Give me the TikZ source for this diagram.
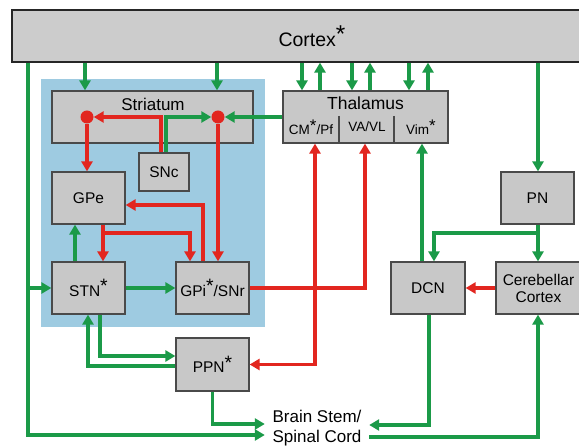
\documentclass[tikz,border=0pt]{standalone}
\usepackage{fontspec}
\setmainfont{Liberation Sans}
\usetikzlibrary{arrows.meta}
\definecolor{gboxfill}{HTML}{C8C8C8}
\definecolor{cortexfill}{HTML}{CCCCCC}
\definecolor{boxline}{HTML}{4A4A4A}
\definecolor{bluebg}{HTML}{9ECBE1}
\definecolor{grn}{HTML}{1B9A48}
\definecolor{rd}{HTML}{E2261F}
\newcommand\stk{\raisebox{0.22em}{\scalebox{1.25}{*}}}
\begin{document}
\begin{tikzpicture}[x=1pt,y=-1pt,
  box/.style={draw=boxline,line width=1.2pt,fill=gboxfill,inner sep=0pt,
    font=\fontsize{15.5}{17}\selectfont,align=center},
  lbl/.style={inner sep=0pt,align=center},
  tip/.style={-{Triangle[length=10pt,width=11pt]}},
  g/.style={draw=grn,line width=3.6pt,tip},
  r/.style={draw=rd,line width=3.6pt,tip},
  dot/.style={circle,fill=rd,inner sep=0pt,minimum size=13pt}]
\useasboundingbox (0,0) rectangle (579,446);
\fill[white] (0,0) rectangle (579,446);
\clip (0,0) rectangle (579,446);
% background
\fill[bluebg] (41,79) rectangle (265,327);
% nodes
\node[box,draw=black!85,fill=cortexfill,minimum width=600pt,minimum height=52pt,font=\fontsize{19.5}{21}\selectfont] (cortex) at (312,36) {Cortex\stk};
\node[box,minimum width=201pt,minimum height=52pt] (str) at (152.5,117) {};
\node[lbl,font=\fontsize{17}{19}\selectfont] (strtxt) at (153,104) {Striatum};
\node[box,minimum width=50pt,minimum height=38pt] (snc) at (164,172) {SNc};
\node[box,minimum width=73pt,minimum height=52pt] (gpe) at (88.5,198) {GPe};
\node[box,minimum width=73pt,minimum height=52pt] (stn) at (88.5,288) {STN\stk};
\node[box,minimum width=73pt,minimum height=52pt] (gpi) at (212.5,288) {GPi\stk/SNr};
\node[box,minimum width=73pt,minimum height=53pt] (ppn) at (212.5,364.5) {PPN\stk};
\node[box,minimum width=165pt,minimum height=52pt] (thal) at (365.5,117) {};
\node[lbl,font=\fontsize{17.5}{19}\selectfont] (thaltxt) at (365.5,103) {Thalamus};
\draw[boxline,line width=1.2pt] (339,116) -- (339,143) (394,116) -- (394,143);
\node[lbl,font=\fontsize{13.5}{15}\selectfont] (cm) at (311,127) {CM\stk/Pf};
\node[lbl,font=\fontsize{13.5}{15}\selectfont] (vavl) at (367,127) {VA/VL};
\node[lbl,font=\fontsize{13.5}{15}\selectfont] (vim) at (421,127) {Vim\stk};
\node[box,minimum width=73pt,minimum height=52pt] (pn) at (537.5,198) {PN};
\node[box,minimum width=74pt,minimum height=52pt] (dcn) at (428,288) {DCN};
\node[box,minimum width=85pt,minimum height=52pt] (cbc) at (538.5,288) {Cerebellar\\Cortex};
\node[lbl,minimum width=104pt,font=\fontsize{17}{20}\selectfont] (bs) at (317,428) {Brain Stem/\\Spinal Cord};
\node[dot] (ldot) at (87,117) {};
\node[dot] (rdot) at (218,117) {};
% cortex -> striatum
\draw[g] (85,0 |- cortex.south) -- (85,0 |- str.north);
\draw[g] (217,0 |- cortex.south) -- (217,0 |- str.north);
% cortex <-> thalamus
\foreach \xx in {302,352,409} \draw[g] (\xx,0 |- cortex.south) -- (\xx,0 |- thal.north);
\foreach \xx in {320,370,428} \draw[g] (\xx,0 |- thal.north) -- (\xx,0 |- cortex.south);
% thalamus -> striatum
\draw[g] (thal.west) -- (rdot.east);
% SNc -> striatum
\draw[r] (161,0 |- snc.north) |- (ldot.east);
\draw[g] (166,0 |- snc.north) |- (rdot.west);
% striatum -> GPe, GPi
\draw[r] (ldot.south) -- (87,0 |- gpe.north);
\draw[r] (rdot.south) -- (218,0 |- gpi.north);
% GPi -> GPe
\draw[r] (203,0 |- gpi.north) |- (gpe.east |- 0,205);
% GPe -> STN, GPi
\draw[r] (103,0 |- gpe.south) -- (103,0 |- stn.north);
\draw[r] (103,233) -| (190,0 |- gpi.north);
% STN -> GPe, GPi
\draw[g] (75,0 |- stn.north) -- (75,0 |- gpe.south);
\draw[g] (stn.east) -- (gpi.west);
% GPi -> thalamus, PPN
\draw[r] (gpi.east) -| (365,0 |- thal.south);
\draw[r] (315,288) -- (315,0 |- thal.south);
\draw[r] (315,288) |- (ppn.east);
% cortex -> STN, brainstem
\draw[g] (28,0 |- cortex.south) |- (stn.west);
\draw[g] (28,288) |- (bs.west |- 0,435);
% STN <-> PPN
\draw[g] (100,0 |- stn.south) |- (ppn.west |- 0,356);
\draw[g] (ppn.west |- 0,366) -| (88,0 |- stn.south);
% PPN -> brainstem
\draw[g] (ppn.south) |- (bs.west |- 0,424);
% cerebellar loop
\draw[g] (538,0 |- cortex.south) -- (538,0 |- pn.north);
\draw[g] (538,0 |- pn.south) -- (538,0 |- cbc.north);
\draw[g] (538,233) -| (434,0 |- dcn.north);
\draw[g] (422,0 |- dcn.north) -- (422,0 |- thal.south);
\draw[r] (cbc.west) -- (dcn.east);
\draw[g] (429,0 |- dcn.south) |- (bs.east |- 0,425);
\draw[g] (bs.east |- 0,437) -| (538,0 |- cbc.south);
\end{tikzpicture}
\end{document}
